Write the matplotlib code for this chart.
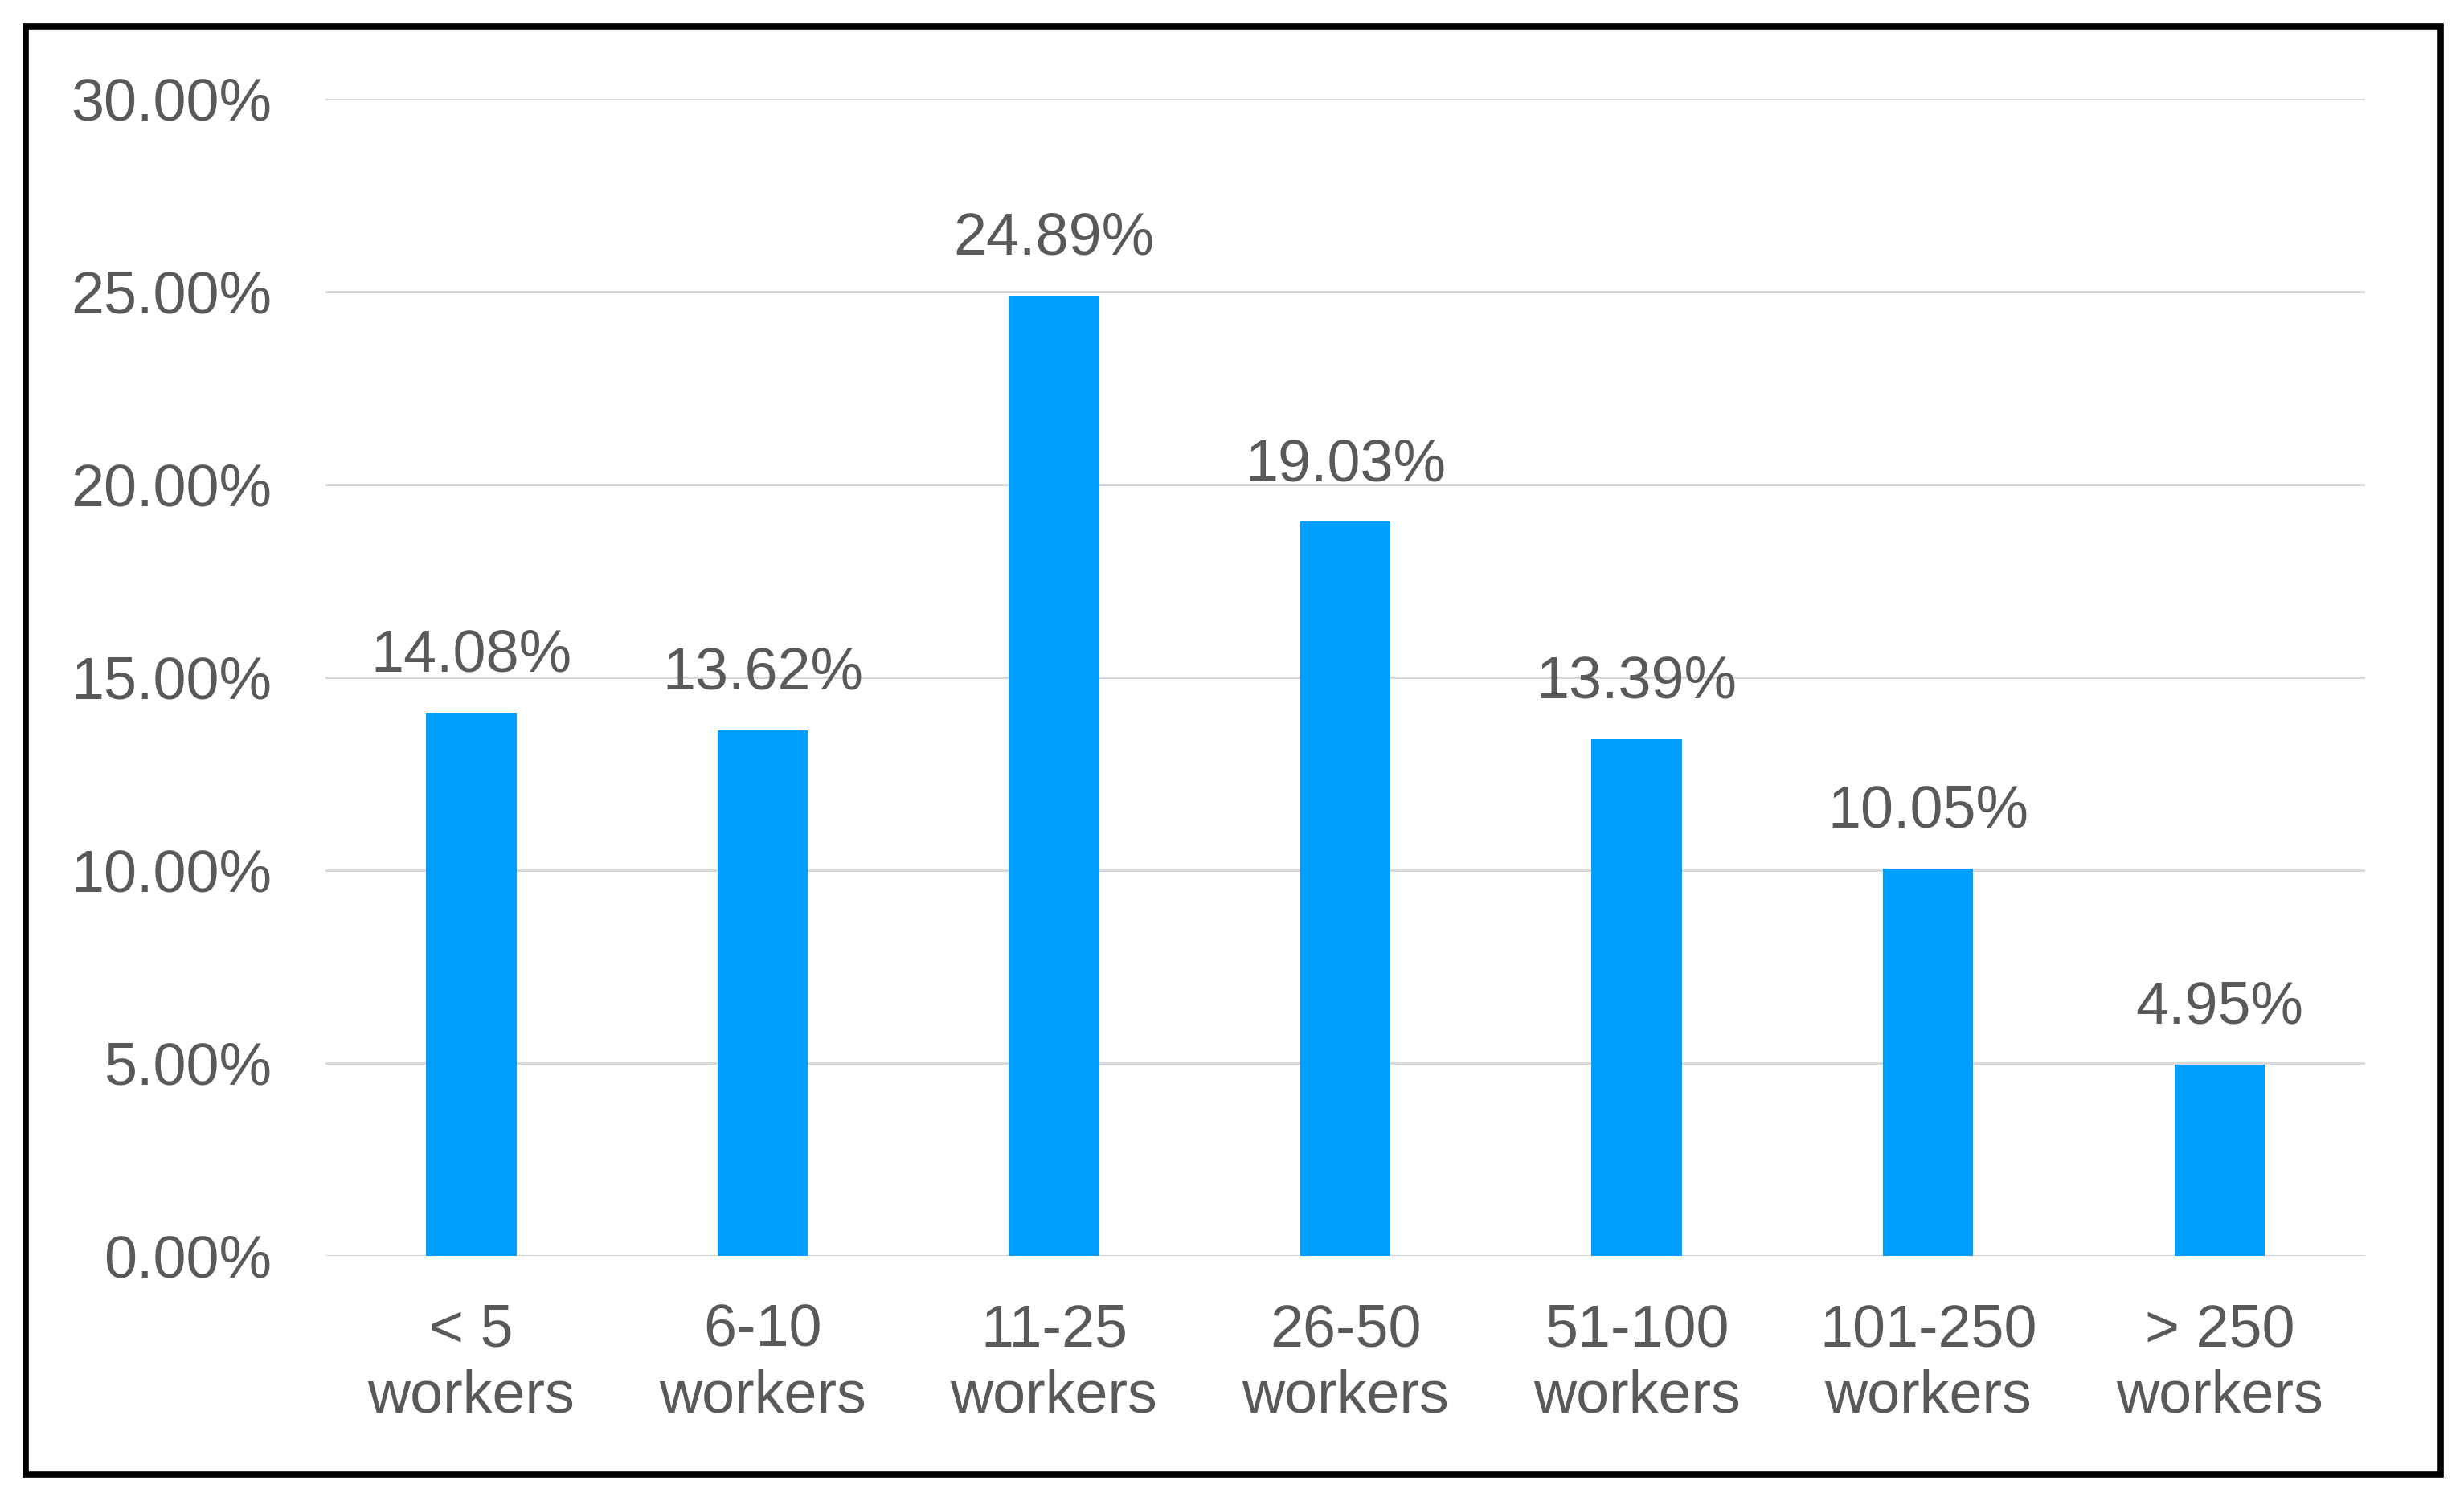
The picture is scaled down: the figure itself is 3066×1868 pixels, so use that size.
import matplotlib.pyplot as plt
from matplotlib.patches import Rectangle
import numpy as np

# datos del gráfico
categorias = ['< 5\nworkers', '6-10\nworkers', '11-25\nworkers', '26-50\nworkers',
              '51-100\nworkers', '101-250\nworkers', '> 250\nworkers']
valores = [14.08, 13.62, 24.89, 19.03, 13.39, 10.05, 4.95]
ticks_y = [0, 5, 10, 15, 20, 25, 30]

gris = '#595959'
azul = '#009EFF'

plt.rcParams['font.family'] = ['Liberation Sans', 'DejaVu Sans']

fig = plt.figure(figsize=(30.66, 18.68), dpi=100)
ax = fig.add_axes([0.1321, 0.1633, 0.9599 - 0.1321, 0.9342 - 0.1633])

x = np.arange(len(categorias))
barras = ax.bar(x, valores, width=0.31, color=azul, zorder=3)

# etiquetas encima de cada barra
for xi, v in zip(x, valores):
    ax.annotate(f'{v:.2f}%', (xi, v), xytext=(0, 37), textcoords='offset points',
                ha='center', va='baseline', fontsize=53, color=gris)

ax.set_xlim(-0.5, len(categorias) - 0.5)
ax.set_ylim(0, 30)
ax.set_yticks(ticks_y)
ax.set_yticklabels([f'{t:.2f}%' for t in ticks_y])
ax.set_xticks(x)
ax.set_xticklabels(categorias, linespacing=1.25)
ax.tick_params(axis='y', length=0, pad=48, labelsize=53, labelcolor=gris)
ax.tick_params(axis='x', length=0, pad=42, labelsize=53, labelcolor=gris)
ax.grid(axis='y', color='#D9D9D9', linewidth=2.2, zorder=0)
for s in ax.spines.values():
    s.set_visible(False)

# marco negro alrededor de la figura
fig.patches.append(Rectangle((0.0104, 0.0177), 0.9905 - 0.0104, 0.9823 - 0.0177,
                             transform=fig.transFigure, fill=False,
                             edgecolor='black', linewidth=5.5))

fig.savefig('out.png', dpi=100, facecolor='white')
